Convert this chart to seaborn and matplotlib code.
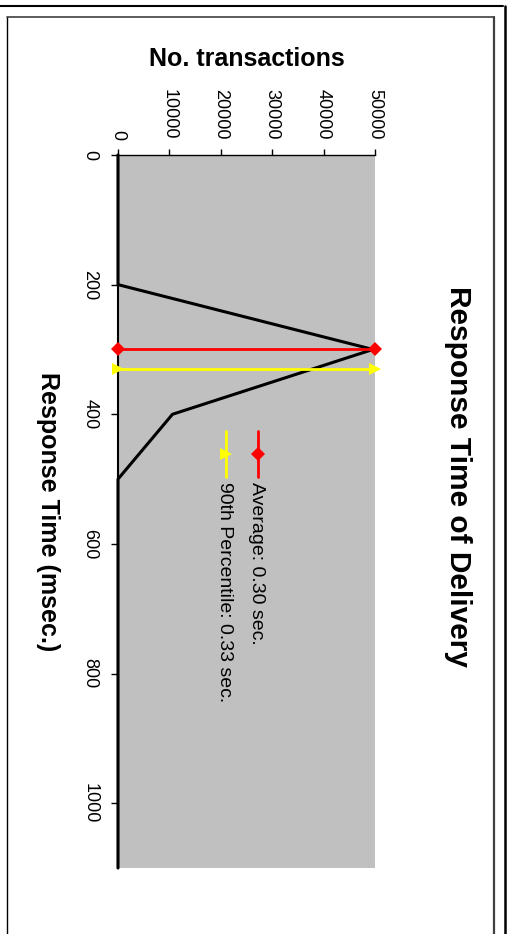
import matplotlib
matplotlib.use('Agg')
import matplotlib.pyplot as plt
import seaborn as sns
import pandas as pd
from matplotlib.lines import Line2D

# ---- data ----
response_ms = [0, 100, 200, 300, 400, 500, 600, 700, 800, 900, 1000, 1100]
transactions = [0, 0, 0, 49600, 10600, 0, 0, 0, 0, 0, 0, 0]
average_ms = 300
average_label = "Average: 0.30 sec."
p90_ms = 330
p90_label = "90th Percentile: 0.33 sec."
x_ticks = [0, 10000, 20000, 30000, 40000, 50000]
y_ticks = [0, 200, 400, 600, 800, 1000]
y_max = 1100
title = "Response Time of Delivery"
xlabel = "No. transactions"
ylabel = "Response Time (msec.)"

sns.set_style('white')
plt.rcParams['font.family'] = ['Liberation Sans', 'DejaVu Sans']
plt.rcParams['text.color'] = 'black'
plt.rcParams['axes.labelcolor'] = 'black'

W, H = 507, 934
fig = plt.figure(figsize=(W / 100, H / 100), dpi=100)
fig.patch.set_facecolor('white')


def fx(px):
    return px / W


def fy(py):
    return 1 - py / H


L, R, T, B = 118, 375, 155, 868
ax = fig.add_axes([fx(L), fy(B), fx(R) - fx(L), fy(T) - fy(B)])
ax.set_facecolor('#C0C0C0')

df = pd.DataFrame({'ms': response_ms, 'n': transactions})
sns.lineplot(data=df, x='n', y='ms', estimator=None, sort=False,
             color='black', linewidth=2.2, ax=ax, clip_on=False, zorder=3)

df_avg = pd.DataFrame({'n': [x_ticks[0], x_ticks[-1]], 'ms': [average_ms] * 2})
sns.lineplot(data=df_avg, x='n', y='ms', estimator=None, sort=False,
             color='#FF0000', linewidth=2.0, marker='D', markersize=7,
             markeredgewidth=0, ax=ax, clip_on=False, zorder=4)

df_p90 = pd.DataFrame({'n': [x_ticks[0], x_ticks[-1]], 'ms': [p90_ms] * 2})
sns.lineplot(data=df_p90, x='n', y='ms', estimator=None, sort=False,
             color='#FFFF00', linewidth=2.0, marker='>', markersize=8,
             markeredgewidth=0, ax=ax, clip_on=False, zorder=4)

ax.set_xlim(x_ticks[0], x_ticks[-1])
ax.set_ylim(y_max, 0)
ax.set_xticks(x_ticks)
ax.set_yticks(y_ticks)
ax.set_xticklabels([str(v) for v in x_ticks])
ax.set_yticklabels([str(v) for v in y_ticks])
ax.xaxis.tick_top()
ax.tick_params(axis='x', top=True, bottom=False, labeltop=True, labelbottom=False,
               direction='out', length=4, width=1, pad=7, labelsize=13,
               labelrotation=-90, color='black', labelcolor='black')
ax.tick_params(axis='y', left=True, direction='out', length=5, width=1, pad=9,
               labelsize=13, labelrotation=-90, color='black', labelcolor='black')
for lab in ax.get_yticklabels():
    lab.set_va('center')
    lab.set_ha('right')

for s in ['right', 'bottom']:
    ax.spines[s].set_visible(False)
ax.spines['top'].set_color('black')
ax.spines['top'].set_linewidth(1.0)
ax.spines['left'].set_color('black')
ax.spines['left'].set_linewidth(1.5)
ax.grid(False)

ax.xaxis.set_label_position('top')
ax.set_xlabel(xlabel, fontsize=18, fontweight='bold', color='black')
ax.xaxis.label.set_va('center')
ax.xaxis.label.set_ha('center')
ax.xaxis.set_label_coords(0.5, (B - 59) / (B - T))
ax.set_ylabel(ylabel, fontsize=18, fontweight='bold', rotation=-90,
              va='center', ha='center', color='black')
ax.yaxis.set_label_coords((48 - L) / (R - L), 0.5)

fig.text(fx(458), fy(477), title, rotation=-90, fontsize=21.5, color='black',
         fontweight='bold', ha='center', va='center')

# legend (vertical, drawn to match rotated chart)
def axf(px, py):
    return (px - L) / (R - L), (B - py) / (B - T)

for (lx, color, marker, ms, label) in [
        (258, '#FF0000', 'D', 7, average_label),
        (226, '#FFFF00', '>', 8, p90_label)]:
    x0, y0 = axf(lx, 431)
    _, y1 = axf(lx, 477)
    _, ym = axf(lx, 454)
    ax.add_line(Line2D([x0, x0], [y0, y1], color=color, lw=2.0,
                       transform=ax.transAxes, zorder=5))
    ax.add_line(Line2D([x0], [ym], color=color, marker=marker, markersize=ms,
                       markeredgewidth=0, transform=ax.transAxes, zorder=5))
    _, yt = axf(lx, 482)
    ax.text(x0 - 0.004, yt, label, rotation=-90, fontsize=14, ha='center',
            va='top', transform=ax.transAxes, color='black')

# outer frame lines
def fline(xs, ys, color='black', lw=1.5):
    fig.add_artist(Line2D([fx(v) for v in xs], [fy(v) for v in ys],
                          color=color, lw=lw, transform=fig.transFigure))

fline([0, 503], [6, 6], lw=1.5)
fline([505, 505], [6, H], lw=1.8)
fline([7, 7], [17, H], lw=1.0)
fline([7, 494], [17, 17], color='#404040', lw=1.2)
fline([494, 494], [17, H], color='#404040', lw=1.6)

fig.savefig('out.png', dpi=100)
